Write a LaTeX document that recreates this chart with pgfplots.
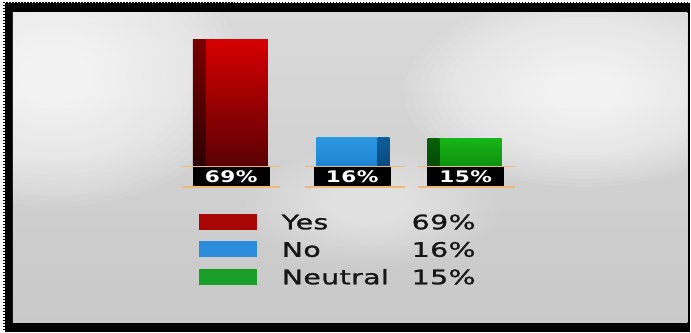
\documentclass[border=0pt]{standalone}
\usepackage{pgfplots}
\pgfplotsset{compat=1.18}
\usepackage{fontspec}
\newfontfamily\lgfont[FakeStretch=1.42, LetterSpace=2, FakeBold=1.3]{DejaVu Sans}
\newfontfamily\bxfont[FakeStretch=1.35, LetterSpace=3]{DejaVu Sans Bold}
\definecolor{bgtop}{HTML}{DADADA}
\definecolor{bgbot}{HTML}{C8C8C8}
\definecolor{yesTop}{HTML}{D60000}
\definecolor{yesBot}{HTML}{5A0004}
\definecolor{yesSideTop}{HTML}{7A0000}
\definecolor{yesSideBot}{HTML}{2E0000}
\definecolor{noTop}{HTML}{2C98E2}
\definecolor{noBot}{HTML}{1F84D2}
\definecolor{noSideTop}{HTML}{0E5E9A}
\definecolor{noSideBot}{HTML}{0A4A7C}
\definecolor{neTop}{HTML}{18B418}
\definecolor{neBot}{HTML}{0C920C}
\definecolor{neSideTop}{HTML}{086008}
\definecolor{neSideBot}{HTML}{054A05}
\definecolor{yesLeg}{HTML}{A80606}
\definecolor{noLeg}{HTML}{2A8CDA}
\definecolor{neLeg}{HTML}{1A9E2A}
\definecolor{orangeline}{HTML}{EDB879}
\definecolor{legtxt}{HTML}{161616}
\begin{document}
\begin{tikzpicture}
% frame and background
\fill[white] (0pt,0pt) rectangle (691pt,332pt);
\fill[black] (3.5pt,0pt) rectangle (691pt,330pt);
\draw[white, line width=1.2pt, dash pattern=on 1.5pt off 1.5pt] (4.1pt,0pt) -- (4.1pt,329.4pt) -- (691pt,329.4pt);
\shade[top color=bgtop, bottom color=bgbot] (13pt,9pt) rectangle (688pt,319pt);
\begin{scope}
\clip (13pt,9pt) rectangle (688pt,319pt);
\foreach \i in {1,...,24} {
  \fill[white, opacity=0.075] (55pt,255pt) ellipse [x radius={190pt*(25-\i)/24}, y radius={130pt*(25-\i)/24}];
  \fill[white, opacity=0.075] (585pt,240pt) ellipse [x radius={180pt*(25-\i)/24}, y radius={95pt*(25-\i)/24}];
  \fill[white, opacity=0.03] (370pt,125pt) ellipse [x radius={130pt*(25-\i)/24}, y radius={60pt*(25-\i)/24}];
  \fill[white, opacity=0.025] (330pt,300pt) ellipse [x radius={120pt*(25-\i)/24}, y radius={50pt*(25-\i)/24}];
}
\end{scope}
\begin{axis}[
  at={(0pt,0pt)}, anchor=south west,
  scale only axis, width=691pt, height=332pt,
  xmin=0, xmax=691, ymin=-90.27, ymax=90.82,
  axis lines=none, clip=false,
  legend style={at={(rel axis cs:0.288,0.3554)}, anchor=north west,
    draw=none, fill=none, inner sep=0pt, outer sep=0pt,
    row sep=11.5pt, column sep=25pt,
    font=\lgfont\fontsize{20}{20}\selectfont, text=legtxt,
    cells={anchor=west},
    nodes={inner sep=0pt, outer sep=0pt, text height=15pt, text depth=0pt}},
]
% Yes
\addplot[ybar, bar width=62pt, bar shift=5pt, draw=none, top color=yesTop, bottom color=yesBot,
  legend image code/.code={\pgfpathrectangle{\pgfpoint{0pt}{-8pt}}{\pgfpoint{58pt}{16pt}}\pgfsetfillcolor{yesLeg}\pgfusepath{fill}}] coordinates {(232,69)};
\addlegendentry{\makebox[194pt][l]{Yes\hfill 69\%}}
\addplot[forget plot, ybar, bar width=13pt, bar shift=-32.5pt, draw=none, top color=yesSideTop, bottom color=yesSideBot] coordinates {(232,69)};
% No
\addplot[ybar, bar width=61pt, bar shift=-5pt, draw=none, top color=noTop, bottom color=noBot,
  legend image code/.code={\pgfpathrectangle{\pgfpoint{0pt}{-8pt}}{\pgfpoint{58pt}{16pt}}\pgfsetfillcolor{noLeg}\pgfusepath{fill}}] coordinates {(352.5,16)};
\addlegendentry{\makebox[194pt][l]{No\hfill 16\%}}
\addplot[forget plot, ybar, bar width=12pt, bar shift=31.5pt, draw=none, top color=noSideTop, bottom color=noSideBot] coordinates {(352.5,16)};
% Neutral
\addplot[ybar, bar width=62pt, bar shift=5pt, draw=none, top color=neTop, bottom color=neBot,
  legend image code/.code={\pgfpathrectangle{\pgfpoint{0pt}{-8pt}}{\pgfpoint{58pt}{16pt}}\pgfsetfillcolor{neLeg}\pgfusepath{fill}}] coordinates {(466,15)};
\addlegendentry{\makebox[194pt][l]{Neutral\hfill 15\%}}
\addplot[forget plot, ybar, bar width=12pt, bar shift=-32pt, draw=none, top color=neSideTop, bottom color=neSideBot] coordinates {(466,15)};
% value boxes
\addplot[forget plot, draw=none, mark=none, point meta=explicit symbolic,
  nodes near coords={\pgfplotspointmeta\%},
  every node near coord/.append style={anchor=north, fill=black, text=white,
    font=\bxfont\fontsize{16}{16}\selectfont,
    minimum width=77pt, minimum height=19.5pt, inner sep=0pt}]
  coordinates {(231.5,0)[69] (352.5,0)[16] (466,0)[15]};
% orange rules
\addplot[forget plot, orangeline, line width=1.4pt, unbounded coords=jump]
  coordinates {(182,0) (280,0) (290,nan) (305,0) (405,0) (410,nan) (418,0) (515,0)};
\addplot[forget plot, orangeline, line width=1.4pt, unbounded coords=jump]
  coordinates {(182,-11.2) (280,-11.2) (290,nan) (305,-11.2) (405,-11.2) (410,nan) (418,-11.2) (515,-11.2)};
\end{axis}
\end{tikzpicture}
\end{document}
